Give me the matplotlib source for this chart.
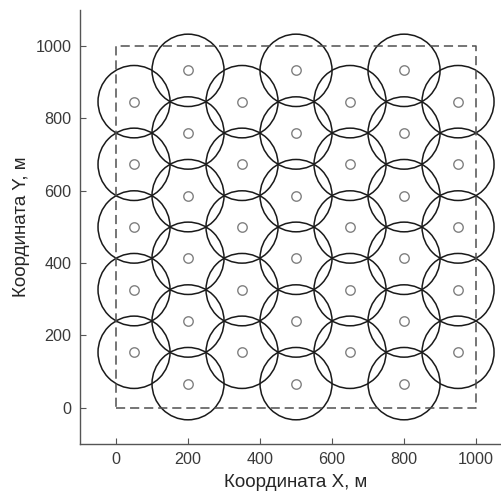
import matplotlib.pyplot as plt
from matplotlib.patches import Circle

plt.rcParams['font.family'] = ['Liberation Sans', 'DejaVu Sans']

# sensor positions: column x and y of centres in each column
col_x = [50, 200, 350, 500, 650, 800, 950]
short_y = [153.6, 326.8, 500.0, 673.2, 846.4]
long_y = [66.9, 240.1, 413.4, 586.6, 759.8, 933.0]
col_y = [short_y, long_y, short_y, long_y, short_y, long_y, short_y]
radius = 100

area_x = [0, 1000, 1000, 0, 0]
area_y = [0, 0, 1000, 1000, 0]

ticks = [0, 200, 400, 600, 800, 1000]


def draw(path):
    fig = plt.figure(figsize=(5.02, 4.94), dpi=100)
    ax = fig.add_axes([0.1594, 0.1012, 0.8606, 0.8787])

    ax.plot(area_x, area_y, color='#505050', lw=1.1, ls=(0, (6, 3.2)))

    for x, ys in zip(col_x, col_y):
        for y in ys:
            ax.add_patch(Circle((x, y), radius, fill=False,
                                edgecolor='#1a1a1a', lw=1.1))
            ax.plot(x, y, 'o', mfc='none', mec='#808080', ms=6.8, mew=1.0)

    ax.set_xlim(-100, 1100)
    ax.set_ylim(-100, 1100)
    ax.set_xticks(ticks)
    ax.set_yticks(ticks)
    ax.spines['top'].set_visible(False)
    ax.spines['right'].set_visible(False)
    for s in ['left', 'bottom']:
        ax.spines[s].set_color('#555555')
        ax.spines[s].set_linewidth(1.0)
    ax.tick_params(direction='in', length=4, color='#555555',
                   labelcolor='#3a3a3a', labelsize=11.6, pad=6)
    ax.set_xlabel("Координата X, м", fontsize=13.5, color='#262626', labelpad=5)
    ax.set_ylabel("Координата Y, м", fontsize=13.5, color='#262626', labelpad=4)

    fig.savefig(path, dpi=100)
    plt.close(fig)


if __name__ == "__main__":
    draw("out.png")
